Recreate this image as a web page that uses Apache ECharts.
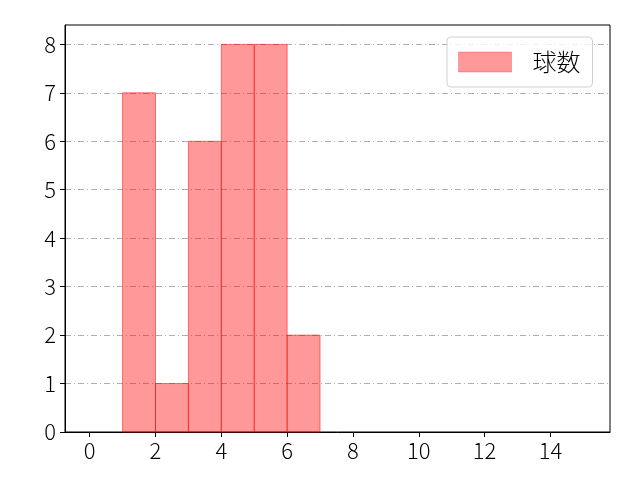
<!DOCTYPE html>
<html><head><meta charset="utf-8">
<script src="https://cdn.jsdelivr.net/npm/echarts@6/dist/echarts.min.js"></script>
<style>html,body{margin:0;padding:0;background:#fff}#c{width:640px;height:480px}</style>
</head><body><div id="c"></div>
<script>
const binStarts = [1, 2, 3, 4, 5, 6];
const binEnds = [2, 3, 4, 5, 6, 7];
const counts = [7, 1, 6, 8, 8, 2];
const xTicks = [0, 2, 4, 6, 8, 10, 12, 14];
const yTicks = [0, 1, 2, 3, 4, 5, 6, 7, 8];
const seriesName = '球数';

const data = binStarts.map((s, i) => [s, binEnds[i], counts[i]]);
const font = "'Noto Sans CJK JP', 'DejaVu Sans', sans-serif";
const chart = echarts.init(document.getElementById('c'), null, {renderer: 'canvas'});
chart.setOption({
  animation: false,
  grid: {left: 65, right: 30, top: 25, bottom: 48, show: true, borderColor: '#000', borderWidth: 1, backgroundColor: 'transparent'},
  legend: {
    show: true, left: 447, top: 37, orient: 'vertical',
    itemWidth: 53, itemHeight: 20, itemGap: 10,
    padding: [13, 12, 13, 11],
    borderColor: '#d0d0d0', borderWidth: 1, borderRadius: 4,
    backgroundColor: 'rgba(255,255,255,0.8)',
    itemStyle: {color: 'rgba(255,0,0,0.4)', borderColor: 'rgba(255,0,0,0.25)', borderWidth: 1},
    textStyle: {fontFamily: font, fontSize: 24, fontWeight: 300, color: '#000', padding: [0, 0, 0, 16]},
    data: [{name: seriesName, icon: 'rect'}]
  },
  xAxis: {
    type: 'value', min: -0.75, max: 15.81,
    axisLine: {show: true, onZero: false, lineStyle: {color: '#000'}},
    axisTick: {show: true, length: 5, lineStyle: {color: '#000'}, customValues: xTicks},
    axisLabel: {fontFamily: font, fontSize: 22, fontWeight: 300, color: '#000', margin: 8, customValues: xTicks},
    splitLine: {show: false}
  },
  yAxis: {
    type: 'value', min: 0, max: 8.4,
    axisLine: {show: true, onZero: false, lineStyle: {color: '#000'}},
    axisTick: {show: true, length: 5, lineStyle: {color: '#000'}, customValues: yTicks},
    axisLabel: {fontFamily: font, fontSize: 22, fontWeight: 300, color: '#000', margin: 9, customValues: yTicks},
    splitLine: {show: true, lineStyle: {color: '#b0b0b0', width: 1, type: [6, 3, 1, 3]}}
  },
  series: [{
    name: seriesName,
    type: 'custom',
    itemStyle: {color: 'rgba(255,0,0,0.4)', borderColor: 'rgba(255,0,0,0.5)', borderWidth: 1},
    renderItem: function (params, api) {
      const p0 = api.coord([api.value(0), 0]);
      const p1 = api.coord([api.value(1), api.value(2)]);
      return {
        type: 'rect',
        shape: {x: p0[0], y: p1[1], width: p1[0] - p0[0], height: p0[1] - p1[1]},
        style: {fill: 'rgba(255,0,0,0.4)', stroke: 'rgba(255,0,0,0.5)', lineWidth: 1}
      };
    },
    encode: {x: [0, 1], y: 2},
    data: data
  }]
});
</script></body></html>
